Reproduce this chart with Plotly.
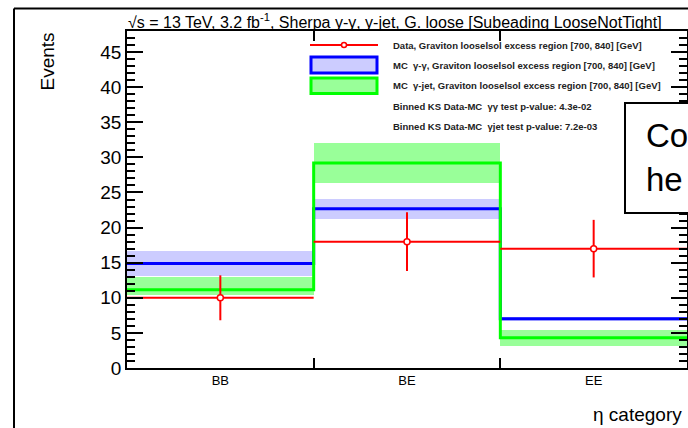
import plotly.graph_objects as go

# ---- data ----
categories = ["BB", "BE", "EE"]
bin_edges = [0, 1, 2, 3]
data_vals = [10, 18, 17]
data_err = [3.2, 4.2, 4.1]
mc_gg = [14.9, 22.7, 7.0]
mc_gg_lo = [13.1, 21.2, 6.7]
mc_gg_hi = [16.7, 24.1, 7.3]
mc_gj = [11.15, 29.2, 4.3]
mc_gj_lo = [10.4, 26.3, 3.2]
mc_gj_hi = [12.9, 32.0, 5.4]
y_range = [0, 48]
y_ticks = [0, 5, 10, 15, 20, 25, 30, 35, 40, 45]
y_minor = [v for v in range(0, 49) if v % 5 != 0]

legend_texts = [
    "Data, Graviton looselsol excess region [700, 840] [GeV]",
    "MC  γ-γ, Graviton looselsol excess region [700, 840] [GeV]",
    "MC  γ-jet, Graviton looselsol excess region [700, 840] [GeV]",
    "Binned KS Data-MC  γγ test p-value: 4.3e-02",
    "Binned KS Data-MC  γjet test p-value: 7.2e-03",
]
title_text = "√s = 13 TeV, 3.2 fb<sup>-1</sup>, Sherpa γ-γ, γ-jet, G. loose [Subeading LooseNotTight]"

RED = "#ff0000"
BLUE = "#0000ff"
GREEN = "#00ff00"
BLUE_FILL = "#ccccff"
GREEN_FILL = "#99ff99"
FONT = "Liberation Sans, Arial, sans-serif"

W, H = 688, 428
L, R, T, B = 127, 1, 31, 60
PW, PH = W - L - R, H - T - B


def px(xp):
    return (xp - L) / PW


def py(yp):
    return (H - B - yp) / PH


centers = [(a + b) / 2 for a, b in zip(bin_edges[:-1], bin_edges[1:])]
widths = [b - a for a, b in zip(bin_edges[:-1], bin_edges[1:])]

fig = go.Figure()

# uncertainty bands
fig.add_trace(go.Bar(x=centers, y=[h - l for h, l in zip(mc_gg_hi, mc_gg_lo)], base=mc_gg_lo,
                     width=widths, marker=dict(color=BLUE_FILL, line=dict(width=0)),
                     hoverinfo="skip", showlegend=False))
fig.add_trace(go.Bar(x=centers, y=[h - l for h, l in zip(mc_gj_hi, mc_gj_lo)], base=mc_gj_lo,
                     width=widths, marker=dict(color=GREEN_FILL, line=dict(width=0)),
                     hoverinfo="skip", showlegend=False))

# step lines
fig.add_trace(go.Scatter(x=bin_edges, y=mc_gg + [mc_gg[-1]], mode="lines",
                         line=dict(color=BLUE, width=3, shape="hv"),
                         hoverinfo="skip", showlegend=False))
fig.add_trace(go.Scatter(x=bin_edges, y=mc_gj + [mc_gj[-1]], mode="lines",
                         line=dict(color=GREEN, width=3, shape="hv"),
                         hoverinfo="skip", showlegend=False))

# data
fig.add_trace(go.Scatter(x=centers, y=data_vals, mode="markers",
                         marker=dict(symbol="circle", size=6, color="white",
                                     line=dict(color=RED, width=1.5)),
                         error_x=dict(type="data", array=[w / 2 for w in widths],
                                      width=0, thickness=2, color=RED),
                         error_y=dict(type="data", array=data_err,
                                      width=0, thickness=2, color=RED),
                         hoverinfo="skip", showlegend=False))

# invisible trace so the mirrored (top/right) axes are drawn
fig.add_trace(go.Scatter(x=[bin_edges[0]], y=[y_range[0]], xaxis="x2", yaxis="y2",
                         mode="markers", marker=dict(opacity=0),
                         hoverinfo="skip", showlegend=False))

fig.update_layout(
    width=W, height=H,
    margin=dict(l=L, r=R, t=T, b=B),
    paper_bgcolor="white", plot_bgcolor="white",
    barmode="overlay", bargap=0,
    showlegend=False,
    font=dict(family=FONT, color="black"),
    xaxis=dict(
        range=[bin_edges[0], bin_edges[-1]],
        tickvals=centers, ticktext=categories, ticks="",
        tickfont=dict(size=13, family=FONT),
        minor=dict(tickvals=bin_edges[1:-1], ticks="inside", ticklen=10,
                   tickwidth=1.5, tickcolor="black"),
        showline=True, linecolor="black", linewidth=1.5,
        showgrid=False, zeroline=False,
    ),
    xaxis2=dict(
        overlaying="x", side="top", range=[bin_edges[0], bin_edges[-1]],
        tickvals=bin_edges[1:-1], ticks="inside", ticklen=10, tickwidth=1.5,
        tickcolor="black", showticklabels=False,
        showline=True, linecolor="black", linewidth=1.5,
        showgrid=False, zeroline=False,
    ),
    yaxis=dict(
        range=y_range,
        tickvals=y_ticks, ticks="inside", ticklen=16, tickwidth=1.5, tickcolor="black",
        minor=dict(tickvals=y_minor, ticks="inside", ticklen=8, tickwidth=1.5,
                   tickcolor="black"),
        tickfont=dict(size=19, family=FONT),
        showline=True, linecolor="black", linewidth=1.5,
        showgrid=False, zeroline=False,
    ),
    yaxis2=dict(
        overlaying="y", side="right", range=y_range,
        tickvals=y_ticks, ticks="inside", ticklen=16, tickwidth=1.5, tickcolor="black",
        minor=dict(tickvals=y_minor, ticks="inside", ticklen=8, tickwidth=1.5,
                   tickcolor="black"),
        showticklabels=False,
        showline=True, linecolor="black", linewidth=1.5,
        showgrid=False, zeroline=False,
    ),
)

shapes = []
annotations = []

# outer frame lines (slide border)
shapes.append(dict(type="line", xref="paper", yref="paper", x0=px(14), x1=px(14),
                   y0=py(H + 5), y1=py(8.5), line=dict(color="black", width=2)))
shapes.append(dict(type="line", xref="paper", yref="paper", x0=px(14), x1=px(W + 5),
                   y0=py(8.5), y1=py(8.5), line=dict(color="black", width=2)))

# legend symbols
shapes.append(dict(type="line", xref="paper", yref="paper", x0=px(310), x1=px(378),
                   y0=py(45), y1=py(45), line=dict(color=RED, width=2)))
shapes.append(dict(type="circle", xref="paper", yref="paper", x0=px(341.5), x1=px(346.5),
                   y0=py(47.5), y1=py(42.5), fillcolor="white", line=dict(color=RED, width=1.5)))
shapes.append(dict(type="rect", xref="paper", yref="paper", x0=px(311), x1=px(377),
                   y0=py(73), y1=py(57), fillcolor=BLUE_FILL, line=dict(color=BLUE, width=3)))
shapes.append(dict(type="rect", xref="paper", yref="paper", x0=px(311), x1=px(377),
                   y0=py(93.5), y1=py(78), fillcolor=GREEN_FILL, line=dict(color=GREEN, width=3)))

legend_y = [45, 65, 85.5, 106, 127]
for txt, yy in zip(legend_texts, legend_y):
    annotations.append(dict(text="<b>" + txt + "</b>", xref="paper", yref="paper",
                            x=px(391), y=py(yy), xanchor="left", yanchor="middle",
                            showarrow=False, font=dict(size=9.5, family=FONT, color="#222222")))

# overlay box from the slide
shapes.append(dict(type="rect", xref="paper", yref="paper", x0=px(625), x1=px(W + 10),
                   y0=py(213), y1=py(103), fillcolor="white", layer="above",
                   line=dict(color="black", width=2)))
annotations.append(dict(text="Co", xref="paper", yref="paper", x=px(644), y=py(135),
                        xanchor="left", yanchor="middle", showarrow=False,
                        font=dict(size=33, family=FONT, color="black")))
annotations.append(dict(text="he", xref="paper", yref="paper", x=px(644), y=py(180),
                        xanchor="left", yanchor="middle", showarrow=False,
                        font=dict(size=33, family=FONT, color="black")))

# title
annotations.append(dict(text=title_text, xref="paper", yref="paper", x=px(395), y=py(21),
                        xanchor="center", yanchor="middle", showarrow=False,
                        font=dict(size=16, family=FONT, color="black")))
# axis titles
annotations.append(dict(text="Events", xref="paper", yref="paper", x=px(46.5), y=py(31),
                        xanchor="center", yanchor="top", textangle=-90, showarrow=False,
                        font=dict(size=19, family=FONT, color="black")))
annotations.append(dict(text="η category", xref="paper", yref="paper", x=px(684), y=py(414),
                        xanchor="right", yanchor="middle", showarrow=False,
                        font=dict(size=19, family=FONT, color="black")))

fig.update_layout(shapes=shapes, annotations=annotations)

fig.write_html("out.html")
